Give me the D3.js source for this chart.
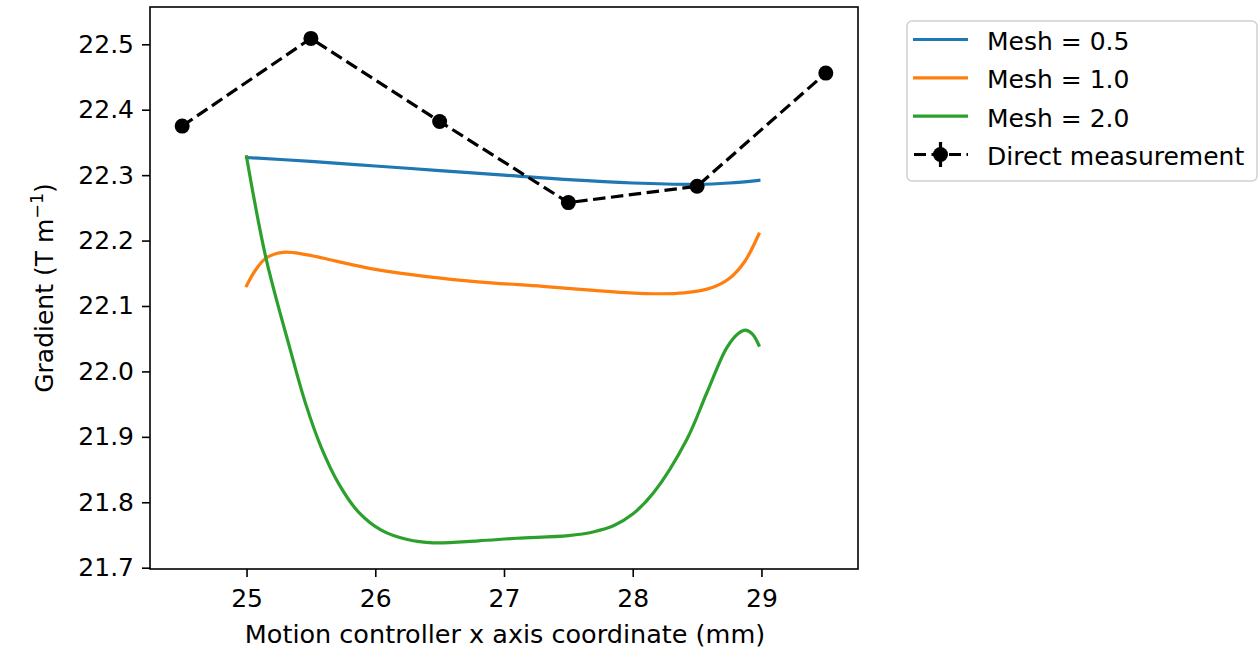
<!DOCTYPE html>
<html>
<head>
<meta charset="utf-8">
<script src="https://cdn.jsdelivr.net/npm/d3@7"></script>
<style>
  body { margin: 0; background: #fff; }
  svg { display: block; font-family: "DejaVu Sans", sans-serif; }
</style>
</head>
<body>
<div id="chart"></div>
<script>
const directX = [24.5, 25.5, 26.5, 27.5, 28.5, 29.5];
const directY = [22.375, 22.509, 22.382, 22.258, 22.283, 22.456];

const mesh05X = [25.0, 25.5, 26.0, 26.5, 27.0, 27.5, 28.0, 28.5, 28.75, 28.98];
const mesh05Y = [22.327, 22.321, 22.314, 22.307, 22.300, 22.293, 22.288, 22.286, 22.288, 22.292];

const mesh10X = [25.0, 25.07, 25.15, 25.28, 25.45, 25.6, 25.8, 26.0, 26.4, 26.8, 27.3, 27.7, 28.1, 28.4, 28.6, 28.75, 28.87, 28.98];
const mesh10Y = [22.131, 22.155, 22.173, 22.182, 22.179, 22.173, 22.164, 22.156, 22.145, 22.137, 22.130, 22.124, 22.119, 22.120, 22.127, 22.142, 22.168, 22.210];

const mesh20X = [25.0, 25.15, 25.34, 25.46, 25.58, 25.72, 25.87, 26.05, 26.25, 26.45, 26.8, 27.1, 27.5, 27.7, 27.85, 28.0, 28.16, 28.42, 28.575, 28.73, 28.82, 28.875, 28.93, 28.98];
const mesh20Y = [22.328, 22.174, 22.033, 21.950, 21.884, 21.827, 21.785, 21.757, 21.743, 21.738, 21.741, 21.745, 21.749, 21.755, 21.764, 21.782, 21.814, 21.896, 21.967, 22.036, 22.058, 22.063, 22.057, 22.040];

const xTicks = [25, 26, 27, 28, 29];
const yTicks = [21.7, 21.8, 21.9, 22.0, 22.1, 22.2, 22.3, 22.4, 22.5];

const seriesNames = ["Mesh = 0.5", "Mesh = 1.0", "Mesh = 2.0", "Direct measurement"];
const seriesColors = ["#1f77b4", "#ff7f0e", "#2ca02c", "#000000"];

(function () {
    const w = 1260, h = 648;
    const left = 150, right = 858, top = 7, bottom = 569;
    const fs = 25;

    const svg = d3.select("#chart")
        .append("svg")
        .attr("width", w)
        .attr("height", h);

    const xScale = d3.scaleLinear().domain([24.25, 29.75]).range([left, right]);
    const yScale = d3.scaleLinear().domain([21.698, 22.557]).range([bottom, top]);

    const xAxis = svg.append("g")
        .attr("transform", `translate(0,${bottom})`)
        .call(d3.axisBottom(xScale).tickValues(xTicks).tickFormat(d3.format("d")).tickSize(8).tickPadding(12));
    const yAxis = svg.append("g")
        .attr("transform", `translate(${left},0)`)
        .call(d3.axisLeft(yScale).tickValues(yTicks).tickFormat(d3.format(".1f")).tickSize(8).tickPadding(8));

    [xAxis, yAxis].forEach(a => {
        a.select(".domain").remove();
        a.selectAll("line").attr("stroke", "#000").attr("stroke-width", 1.6);
        a.selectAll("text").attr("fill", "#000").style("font-size", fs + "px").style("font-family", "DejaVu Sans");
    });

    const line = d3.line()
        .x(d => xScale(d[0]))
        .y(d => yScale(d[1]))
        .curve(d3.curveCatmullRom.alpha(0.5));

    const sims = [[mesh05X, mesh05Y], [mesh10X, mesh10Y], [mesh20X, mesh20Y]];
    sims.forEach((s, i) => {
        svg.append("path")
            .datum(d3.zip(s[0], s[1]))
            .attr("d", line)
            .attr("fill", "none")
            .attr("stroke", seriesColors[i])
            .attr("stroke-width", 3.2)
            .attr("stroke-linecap", "square");
    });

    const direct = d3.zip(directX, directY);
    svg.append("path")
        .datum(direct)
        .attr("d", d3.line().x(d => xScale(d[0])).y(d => yScale(d[1])))
        .attr("fill", "none")
        .attr("stroke", "#000")
        .attr("stroke-width", 3.2)
        .attr("stroke-dasharray", "12.5,5.5");

    svg.selectAll("circle.pt")
        .data(direct)
        .enter()
        .append("circle")
        .attr("class", "pt")
        .attr("cx", d => xScale(d[0]))
        .attr("cy", d => yScale(d[1]))
        .attr("r", 7.5)
        .attr("fill", "#000");

    svg.append("rect")
        .attr("x", left).attr("y", top)
        .attr("width", right - left).attr("height", bottom - top)
        .attr("fill", "none")
        .attr("stroke", "#000")
        .attr("stroke-width", 1.6);

    svg.append("text")
        .attr("x", (left + right) / 2 + 1)
        .attr("y", 643)
        .attr("text-anchor", "middle")
        .style("font-size", "25.5px")
        .text("Motion controller x axis coordinate (mm)");

    const yl = svg.append("text")
        .attr("transform", `translate(53,${(top + bottom) / 2}) rotate(-90)`)
        .attr("text-anchor", "middle")
        .style("font-size", fs + "px");
    yl.append("tspan").text("Gradient (T m");
    yl.append("tspan").attr("dy", -10).style("font-size", "17.5px").text("\u22121");
    yl.append("tspan").attr("dy", 10).text(")");

    // legend
    const lg = svg.append("g");
    lg.append("rect")
        .attr("x", 907).attr("y", 21)
        .attr("width", 350).attr("height", 160)
        .attr("rx", 5)
        .attr("fill", "#fff")
        .attr("stroke", "#d0d0d0")
        .attr("stroke-width", 1.5);

    const rowY = d3.scalePoint().domain(seriesNames).range([39.5, 154.5]);
    seriesNames.forEach((name, i) => {
        const yy = rowY(name);
        if (i < 3) {
            lg.append("line")
                .attr("x1", 913).attr("x2", 968)
                .attr("y1", yy).attr("y2", yy)
                .attr("stroke", seriesColors[i])
                .attr("stroke-width", 3.2);
        } else {
            lg.append("line")
                .attr("x1", 914).attr("x2", 968)
                .attr("y1", yy).attr("y2", yy)
                .attr("stroke", "#000")
                .attr("stroke-width", 3.2)
                .attr("stroke-dasharray", "12,5.5");
            lg.append("line")
                .attr("x1", 940.5).attr("x2", 940.5)
                .attr("y1", yy - 12.5).attr("y2", yy + 12.5)
                .attr("stroke", "#000")
                .attr("stroke-width", 3.2);
            lg.append("circle")
                .attr("cx", 940.5).attr("cy", yy)
                .attr("r", 7.5)
                .attr("fill", "#000");
        }
        lg.append("text")
            .attr("x", 987)
            .attr("y", yy + 10.5)
            .style("font-size", fs + "px")
            .text(name);
    });
})();
</script>
</body>
</html>
